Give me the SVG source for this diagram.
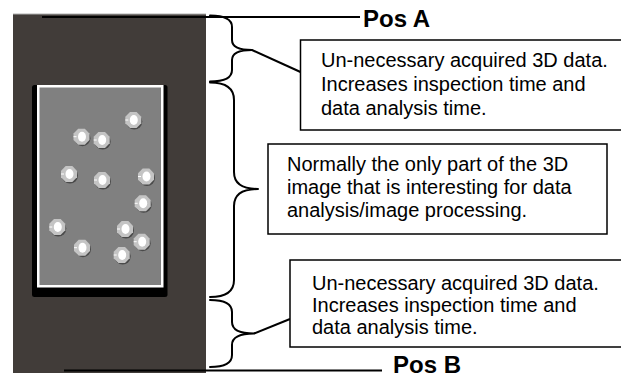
<svg xmlns="http://www.w3.org/2000/svg" xmlns:xlink="http://www.w3.org/1999/xlink" width="621" height="374" viewBox="0 0 621 374">
  <style>
    .txt { font-family: "Liberation Sans", Arial, sans-serif; font-size: 20px; fill: #000; }
    .pos { font-family: "Liberation Sans", Arial, sans-serif; font-size: 24px; font-weight: bold; fill: #000; }
    .box { fill: #fff; stroke: #000; stroke-width: 1.5; }
    .brace { fill: none; stroke: #000; stroke-width: 2; stroke-linejoin: round; stroke-linecap: round; }
    .lead { fill: none; stroke: #000; stroke-width: 2; }
  </style>
  <defs>
    <!-- one bright particle with its drop shadow -->
    <g id="particle">
      <circle cx="1" cy="1.5" r="8" fill="#4a4a4a"/>
      <polygon points="-3.3,-8 3.3,-8 8,-3.3 8,3.3 3.3,8 -3.3,8 -8,3.3 -8,-3.3" fill="#c4c4c4"/>
      <ellipse cx="0.5" cy="0" rx="4" ry="5" fill="#ffffff"/>
      <line x1="-8" y1="0" x2="-5" y2="0" stroke="#ffffff" stroke-width="1"/>
    </g>
  </defs>

  <!-- acquired 3D volume -->
  <g id="volume">
    <rect x="13" y="14" width="193" height="359" fill="#413c39"/>
    <line x1="13" y1="14" x2="206" y2="14" stroke="#b0b0b0" stroke-width="1"/>
  </g>

  <!-- sample card with particles -->
  <g id="sample">
    <rect x="32" y="85" width="135.5" height="212" rx="2.5" fill="#000"/>
    <rect x="37" y="85" width="126.5" height="202.5" fill="#fff"/>
    <rect x="39.5" y="87.5" width="121.5" height="197.5" fill="#808080"/>
    <use xlink:href="#particle" x="133.3" y="120"/>
    <use xlink:href="#particle" x="81.5" y="136.7"/>
    <use xlink:href="#particle" x="101.7" y="140"/>
    <use xlink:href="#particle" x="69" y="174"/>
    <use xlink:href="#particle" x="102" y="180"/>
    <use xlink:href="#particle" x="146" y="176.5"/>
    <use xlink:href="#particle" x="142.7" y="203.3"/>
    <use xlink:href="#particle" x="57.3" y="227"/>
    <use xlink:href="#particle" x="125" y="229"/>
    <use xlink:href="#particle" x="141.7" y="241.7"/>
    <use xlink:href="#particle" x="82" y="247.7"/>
    <use xlink:href="#particle" x="121.7" y="255"/>
  </g>

  <!-- position markers -->
  <g id="posA">
    <line x1="42" y1="17" x2="360" y2="17" stroke="#000" stroke-width="2"/>
    <text class="pos" x="363" y="27">Pos A</text>
  </g>
  <g id="posB">
    <line x1="64" y1="370.5" x2="382" y2="370.5" stroke="#000" stroke-width="2"/>
    <text class="pos" x="393" y="373">Pos B</text>
  </g>

  <!-- braces and leader lines -->
  <g id="connectors">
    <path class="brace" d="M210 15.5 Q232 15.5 232 27 L232 40 Q232 50 252 50 Q232 50 232 60 L232 70 Q232 81.5 210 81.5"/>
    <path class="brace" d="M210 82.5 Q234 82.5 234 100 L234 172 Q234 189 258 189 Q234 189 234 206 L234 280 Q234 297 210 297"/>
    <path class="brace" d="M210 300 Q232 300 232 312 L232 322 Q232 333.5 254 333.5 Q232 333.5 232 345 L232 355 Q232 367 210 367"/>
    <line class="lead" x1="252" y1="50" x2="300.5" y2="72"/>
    <line class="lead" x1="254" y1="333.5" x2="290" y2="319"/>
  </g>

  <!-- annotation boxes -->
  <g id="note-top">
    <rect class="box" x="300.5" y="40" width="330" height="90"/>
    <text class="txt" x="321" y="67">Un-necessary acquired 3D data.</text>
    <text class="txt" x="321" y="91">Increases inspection time and</text>
    <text class="txt" x="321" y="115">data analysis time.</text>
  </g>
  <g id="note-middle">
    <rect class="box" x="268" y="144" width="339" height="90"/>
    <text class="txt" x="287" y="171">Normally the only part of the 3D</text>
    <text class="txt" x="287" y="194">image that is interesting for data</text>
    <text class="txt" x="287" y="217">analysis/image processing.</text>
  </g>
  <g id="note-bottom">
    <rect class="box" x="290" y="260" width="340" height="87"/>
    <text class="txt" x="312" y="290">Un-necessary acquired 3D data.</text>
    <text class="txt" x="312" y="312">Increases inspection time and</text>
    <text class="txt" x="312" y="334">data analysis time.</text>
  </g>
</svg>
